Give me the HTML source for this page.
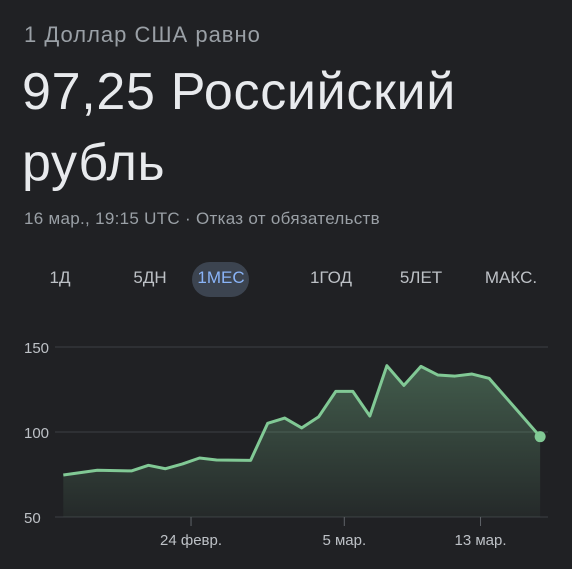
<!DOCTYPE html>
<html><head><meta charset="utf-8"><style>
body{margin:0;width:572px;height:569px;background:#202124;overflow:hidden;font-family:"Liberation Sans",sans-serif;position:relative}
.t{position:absolute;white-space:nowrap}
.tab{position:absolute;top:266px;font-size:17px;color:#bdc1c6;transform:translateX(-50%);line-height:24px}
</style></head><body>
<div class="t" style="left:24px;top:22px;font-size:22px;letter-spacing:1px;color:#9aa0a6">1 Доллар США равно</div>
<div class="t" style="left:22px;top:57px;font-size:52px;letter-spacing:0.7px;color:#e8eaed;line-height:71px">97,25 Российский<br>рубль</div>
<div class="t" style="left:24px;top:209px;font-size:17px;letter-spacing:0.3px;color:#9aa0a6">16 мар., 19:15 UTC · Отказ от обязательств</div>
<div style="position:absolute;left:192px;top:262px;width:57px;height:35px;border-radius:18px;background:#3c4450"></div>
<div class="tab" style="left:60px">1Д</div>
<div class="tab" style="left:150px">5ДН</div>
<div class="tab" style="left:221px;color:#8ab4f8">1МЕС</div>
<div class="tab" style="left:331px">1ГОД</div>
<div class="tab" style="left:421px">5ЛЕТ</div>
<div class="tab" style="left:511px">МАКС.</div>
<svg id="c" width="572" height="569" style="position:absolute;left:0;top:0">
<defs><linearGradient id="g" x1="0" y1="0" x2="0" y2="1"><stop offset="0" stop-color="#81c995" stop-opacity="0.35"/><stop offset="1" stop-color="#81c995" stop-opacity="0.05"/></linearGradient></defs>
</svg>
<script>
const days=[0,2,4,5,6,7,8,9,11,12,13,14,15,16,17,18,19,20,21,22,23,24,25,26.5,28];
const values=[74.7,77.5,77.1,80.4,78.4,81.2,84.7,83.5,83.3,105.1,108.2,102.4,109,123.9,123.9,109.4,139,127.4,138.6,133.5,132.9,134.1,131.6,114.5,97.25];
const yTicks=[50,100,150];
const xTickDays=[7.5,16.5,24.5];
const xTickLabels=["24 февр.","5 мар.","13 мар."];
const svg=document.getElementById('c');const NS='http://www.w3.org/2000/svg';
const X=d=>63.3+d*17.03, Y=v=>432-(v-100)*1.7;
function mk(t,a){const e=document.createElementNS(NS,t);for(const k in a)e.setAttribute(k,a[k]);svg.appendChild(e);return e;}
yTicks.forEach(v=>{
 const l=mk('line',{x1:55,x2:548,y1:Y(v),y2:Y(v),stroke:'#3c4043','stroke-width':1});
 
 
 const t=mk('text',{x:24,y:Y(v)+6,fill:'#bdc1c6','font-size':15,'font-family':'Liberation Sans, sans-serif'});t.textContent=v;
 
 
});
xTickDays.forEach((d,i)=>{
 const l=mk('line',{x1:X(d),x2:X(d),y1:Y(50),y2:Y(50)+9,stroke:'#5f6368'});
 
 
 const t=mk('text',{x:X(d),y:545,fill:'#bdc1c6','font-size':15,'text-anchor':'middle','font-family':'Liberation Sans, sans-serif'});t.textContent=xTickLabels[i];
 
 
});
let p=days.map((d,i)=>X(d)+','+Y(values[i])).join(' ');
const area=mk('polygon',{points:X(days[0])+','+Y(50)+' '+p+' '+X(days[days.length-1])+','+Y(50),fill:'url(#g)'});


const line=mk('polyline',{points:p,fill:'none',stroke:'#81c995','stroke-width':3,'stroke-linejoin':'round'});


const n=days.length-1;
const dot=mk('circle',{cx:X(days[n]),cy:Y(values[n]),r:5.5,fill:'#81c995'});


</script>
</body></html>
